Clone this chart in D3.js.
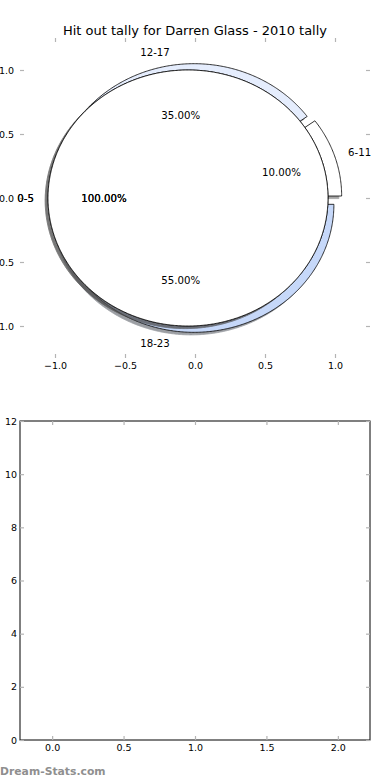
<!DOCTYPE html>
<html>
<head>
<meta charset="utf-8">
<script src="https://cdn.jsdelivr.net/npm/d3@7"></script>
<style>
  body { margin: 0; background: #fff; }
  svg { display: block; font-family: "DejaVu Sans", sans-serif; }
</style>
</head>
<body>
<div id="chart"></div>
<script>
// Hit out tally — pie of time bins plus an (empty) bar panel underneath

const title = "Hit out tally for Darren Glass - 2010 tally";

// outer pie (drawn first, mostly hidden behind the full circle)
const ringLabels = ["6-11", "12-17", "18-23"];
const ringValues = [10, 35, 55];
const ringColors = ["#ffffff", "#e5edfd", "#c6d8f9"];

// single-bin pie on top
const coreLabels = ["0-5"];
const coreValues = [100];
const coreColors = ["#ffffff"];

const pieTicks = [-1.0, -0.5, 0.0, 0.5, 1.0];

// lower panel
const barPositions = [0, 1, 2];
const barValues = [0, 0, 0];
const barTicksX = [0.0, 0.5, 1.0, 1.5, 2.0];
const barTicksY = [0, 2, 4, 6, 8, 10, 12];

const watermark = "Dream-Stats.com";

const W = 390, H = 780;
const svg = d3.select("#chart").append("svg").attr("width", W).attr("height", H);

const tickColor = "#b4b4b4";
const fmt1 = d3.format(".1f");

// ── pie panel ──────────────────────────────────────────
const px = d3.scaleLinear().domain([-1.25, 1.25]).range([20, 370]);
const py = d3.scaleLinear().domain([-1.25, 1.25]).range([358, 38]);

svg.append("text")
  .attr("x", 195).attr("y", 35)
  .attr("text-anchor", "middle")
  .attr("font-size", 13)
  .text(title);

function styleTicks(g) {
  g.select(".domain").remove();
  g.selectAll(".tick line").attr("stroke", tickColor).attr("stroke-width", 1.2);
  g.selectAll(".tick text").attr("fill", "#000").attr("font-size", 9.5)
    .attr("font-family", "DejaVu Sans, sans-serif");
}

function addAxes(x, y, xt, yt, xf, yf, padL) {
  const [x0, x1] = x.range(), [y0, y1] = y.range();
  svg.append("g").attr("transform", `translate(0,${y0})`)
    .call(d3.axisBottom(x).tickValues(xt).tickFormat(xf).tickSize(-4).tickPadding(4)).call(styleTicks);
  svg.append("g").attr("transform", `translate(0,${y1})`)
    .call(d3.axisTop(x).tickValues(xt).tickFormat("").tickSize(-4)).call(styleTicks);
  svg.append("g").attr("transform", `translate(${x0},0)`)
    .call(d3.axisLeft(y).tickValues(yt).tickFormat(yf).tickSize(-4).tickPadding(padL)).call(styleTicks);
  svg.append("g").attr("transform", `translate(${x1},0)`)
    .call(d3.axisRight(y).tickValues(yt).tickFormat("").tickSize(-4)).call(styleTicks);
}

addAxes(px, py, pieTicks, pieTicks, fmt1, fmt1, 6);

const explode = 0.05;
const line = d3.line().x(d => px(d[0])).y(d => py(d[1]));
const wedgeLayer = svg.append("g");
const labelLayer = svg.append("g");

function drawPie(labels, values, colors) {
  // d3 angles run clockwise from 12 o'clock; convert to ccw from +x (start at 3 o'clock)
  const arcs = d3.pie().sort(null).startAngle(Math.PI / 2).endAngle(Math.PI / 2 - 2 * Math.PI)(values);
  const total = d3.sum(values);
  arcs.forEach((a, i) => {
    const t0 = Math.PI / 2 - a.startAngle, t1 = Math.PI / 2 - a.endAngle;
    const mid = (t0 + t1) / 2;
    const cx = explode * Math.cos(mid), cy = explode * Math.sin(mid);
    const full = Math.abs(t1 - t0 - 2 * Math.PI) < 1e-9;
    const n = Math.max(12, Math.ceil((t1 - t0) / 0.01));
    const pts = d3.range(n + 1).map(k => {
      const t = t0 + (t1 - t0) * k / n;
      return [cx + Math.cos(t), cy + Math.sin(t)];
    });
    if (!full) pts.unshift([cx, cy]);

    const c = d3.rgb(colors[i]);
    const sc = d3.rgb(c.r * 0.3, c.g * 0.3, c.b * 0.3);
    wedgeLayer.append("path")
      .attr("d", line(pts.map(p => [p[0] - 0.02, p[1] - 0.02])) + "Z")
      .attr("fill", sc).attr("stroke", sc).attr("stroke-width", 0.8)
      .attr("opacity", 0.5);
    wedgeLayer.append("path")
      .attr("d", line(pts) + "Z")
      .attr("fill", colors[i]).attr("stroke", "#000").attr("stroke-width", 0.8);

    const lx = cx + 1.1 * Math.cos(mid), ly = cy + 1.1 * Math.sin(mid);
    labelLayer.append("text")
      .attr("x", px(lx)).attr("y", py(ly)).attr("dy", "0.36em")
      .attr("text-anchor", lx > 0 ? "start" : "end")
      .attr("font-size", 10.2)
      .text(labels[i]);
    const tx = cx + 0.6 * Math.cos(mid), ty = cy + 0.6 * Math.sin(mid);
    labelLayer.append("text")
      .attr("x", px(tx)).attr("y", py(ty)).attr("dy", "0.36em")
      .attr("text-anchor", "middle")
      .attr("font-size", 10.2)
      .text((100 * values[i] / total).toFixed(2) + "%");
  });
}

drawPie(ringLabels, ringValues, ringColors);
// the single-bin pie is rendered twice in the source image (doubled shadow + text)
drawPie(coreLabels, coreValues, coreColors);
drawPie(coreLabels, coreValues, coreColors);

// ── bar panel ──────────────────────────────────────────
const bx = d3.scaleLinear().domain([-0.225, 2.225]).range([20, 370]);
const by = d3.scaleLinear().domain([0, 12]).range([740, 421]);

svg.append("g").selectAll("rect").data(barValues).join("rect")
  .attr("x", (d, i) => bx(barPositions[i] - 0.4))
  .attr("width", bx(0.8) - bx(0))
  .attr("y", d => by(d))
  .attr("height", d => by(0) - by(d))
  .attr("fill", "#c6d8f9");

svg.append("rect")
  .attr("x", 20).attr("y", 421).attr("width", 350).attr("height", 319)
  .attr("fill", "none").attr("stroke", "#000").attr("stroke-width", 1);

addAxes(bx, by, barTicksX, barTicksY, fmt1, d3.format("d"), 3);

svg.append("text")
  .attr("x", 0).attr("y", 775)
  .attr("font-size", 10.8).attr("font-weight", "bold")
  .attr("fill", "#8f8f8f")
  .text(watermark);
</script>
</body>
</html>
